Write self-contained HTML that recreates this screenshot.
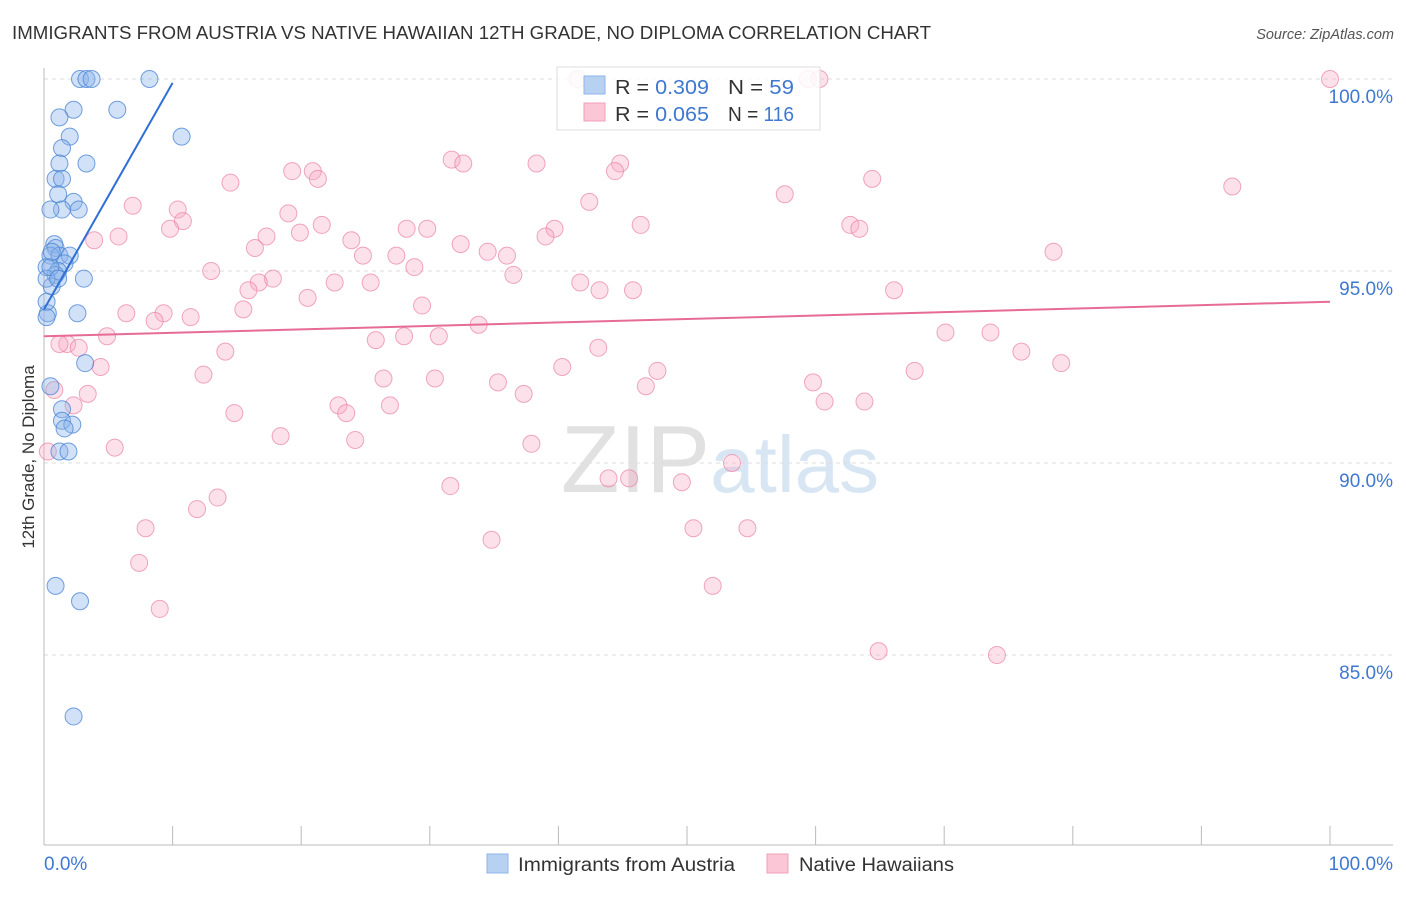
<!DOCTYPE html>
<html><head><meta charset="utf-8"><style>
body{margin:0;background:#fff;font-family:"Liberation Sans",sans-serif;}
svg text{font-family:"Liberation Sans",sans-serif;}
</style></head><body>
<svg id="chart" width="1406" height="892" viewBox="0 0 1406 892" xmlns="http://www.w3.org/2000/svg">
<text x="12" y="39" font-size="18" fill="#333" textLength="919" lengthAdjust="spacingAndGlyphs">IMMIGRANTS FROM AUSTRIA VS NATIVE HAWAIIAN 12TH GRADE, NO DIPLOMA CORRELATION CHART</text>
<text x="1394" y="39" font-size="14.5" fill="#555" text-anchor="end" font-style="italic">Source: ZipAtlas.com</text>
<text x="720" y="492" font-size="96" text-anchor="middle" fill="#ddd" font-family="Liberation Serif" opacity="0.7"><tspan fill="#d5d5d5">ZIP</tspan><tspan fill="#c8dcf0" font-family="Liberation Sans" font-size="80">atlas</tspan></text>
<g id="grid"></g>
<g id="axes"></g>
<g id="pts"></g>
<g id="trends"></g>
<text transform="translate(34,457) rotate(-90)" font-size="17" fill="#333" text-anchor="middle">12th Grade, No Diploma</text>
<g>
<rect x="557" y="67" width="263" height="63" fill="#fff" fill-opacity="0.85" stroke="#ddd"/>
<rect x="584" y="76" width="21" height="18" fill="#b7d1f3" stroke="#8fb5e8"/>
<rect x="584" y="103" width="21" height="18" fill="#fbc6d6" stroke="#f2a0b9"/>
<text x="615" y="94" font-size="20" fill="#333" textLength="94" lengthAdjust="spacingAndGlyphs">R = <tspan fill="#3f78d1">0.309</tspan></text>
<text x="728" y="94" font-size="20" fill="#333" textLength="66" lengthAdjust="spacingAndGlyphs">N = <tspan fill="#3f78d1"> 59</tspan></text>
<text x="615" y="121" font-size="20" fill="#333" textLength="94" lengthAdjust="spacingAndGlyphs">R = <tspan fill="#3f78d1">0.065</tspan></text>
<text x="728" y="121" font-size="20" fill="#333" textLength="66" lengthAdjust="spacingAndGlyphs">N = <tspan fill="#3f78d1">116</tspan></text>
</g>
<g>
<rect x="487" y="854" width="21" height="19" fill="#b7d1f3" stroke="#8fb5e8"/>
<text x="518" y="871" font-size="19" fill="#333" textLength="217" lengthAdjust="spacingAndGlyphs">Immigrants from Austria</text>
<rect x="767" y="854" width="21" height="19" fill="#fbc6d6" stroke="#f2a0b9"/>
<text x="799" y="871" font-size="19" fill="#333" textLength="155" lengthAdjust="spacingAndGlyphs">Native Hawaiians</text>
</g>
</svg>
<script>
const yTicks=[100,95,90,85];
const yTickLabels=["100.0%","95.0%","90.0%","85.0%"];
const xTickLabels=["0.0%","100.0%"];
const blueX=[2.8,3.3,3.7,8.2,5.7,2.3,1.2,2.0,10.7,1.4,1.2,3.3,0.9,1.4,1.1,2.3,1.4,0.5,2.7,0.8,0.9,0.5,1.2,2.0,1.6,0.2,1.1,0.9,3.1,0.6,2.6,0.3,0.2,3.2,0.5,1.4,1.4,2.2,1.6,1.2,1.9,0.9,2.8,2.3,0.2,0.5,0.2,0.6,1.1];
const blueY=[100,100,100,100,99.2,99.2,99.0,98.5,98.5,98.2,97.8,97.8,97.4,97.4,97.0,96.8,96.6,96.6,96.6,95.7,95.6,95.4,95.4,95.4,95.2,95.1,95.0,94.9,94.8,94.6,93.9,93.9,93.8,92.6,92.0,91.4,91.1,91.0,90.9,90.3,90.3,86.8,86.4,83.4,94.8,95.1,94.2,95.5,94.8];
const pinkX=[41.5,59.4,60.3,100,31.7,32.6,38.3,44.8,44.4,20.9,19.3,21.3,64.4,14.5,92.4,57.6,42.4,6.9,10.4,19.0,10.8,21.6,46.4,62.7,9.8,28.2,29.8,39.7,63.4,39.0,19.9,5.8,17.3,3.9,23.9,32.4,16.4,78.5,34.5,36.0,24.8,27.4,28.8,13.0,36.5,17.8,22.6,16.7,25.4,41.7,43.2,45.8,15.9,66.1,20.5,29.4,15.5,6.4,9.3,11.4,8.6,33.8,70.1,73.6,4.9,30.7,28.0,25.8,1.8,1.2,2.7,43.1,14.1,76.0,79.1,4.4,40.3,47.7,67.7,12.4,26.4,30.4,59.8,35.3,46.8,37.3,0.8,3.4,2.3,22.9,60.7,63.8,26.9,23.5,14.8,18.4,24.2,37.9,5.5,0.3,53.5,43.9,45.5,49.6,31.6,13.5,11.9,7.9,50.5,54.7,34.8,7.4,52.0,9.0,64.9,74.1];
const pinkY=[100,100,100,100,97.9,97.8,97.8,97.8,97.6,97.6,97.6,97.4,97.4,97.3,97.2,97.0,96.8,96.7,96.6,96.5,96.3,96.2,96.2,96.2,96.1,96.1,96.1,96.1,96.1,95.9,96.0,95.9,95.9,95.8,95.8,95.7,95.6,95.5,95.5,95.4,95.4,95.4,95.1,95.0,94.9,94.8,94.7,94.7,94.7,94.7,94.5,94.5,94.5,94.5,94.3,94.1,94.0,93.9,93.9,93.8,93.7,93.6,93.4,93.4,93.3,93.3,93.3,93.2,93.1,93.1,93.0,93.0,92.9,92.9,92.6,92.5,92.5,92.4,92.4,92.3,92.2,92.2,92.1,92.1,92.0,91.8,91.9,91.8,91.5,91.5,91.6,91.6,91.5,91.3,91.3,90.7,90.6,90.5,90.4,90.3,90.0,89.6,89.6,89.5,89.4,89.1,88.8,88.3,88.3,88.3,88.0,87.4,86.8,86.2,85.1,85.0];
const blueTrend=[[0,94.0],[10,99.9]];
const pinkTrend=[[0,93.3],[100,94.2]];
const NS="http://www.w3.org/2000/svg";
const X0=44,X1=1330,YT=79,PPU=38.4;
const sx=v=>X0+(X1-X0)*v/100;
const sy=v=>YT+(100-v)*PPU;
function mk(tag,attrs,parent){const e=document.createElementNS(NS,tag);for(const k in attrs)e.setAttribute(k,attrs[k]);parent.appendChild(e);return e;}
const grid=document.getElementById('grid'),axes=document.getElementById('axes');
yTicks.forEach((t,i)=>{
 const l=mk('line',{x1:X0,x2:1393,y1:sy(t),y2:sy(t),stroke:'#ddd','stroke-dasharray':'4,4'},grid);
 
 
 const tx=mk('text',{x:1393,y:sy(t)+24,'font-size':19,fill:'#3f78d1','text-anchor':'end'},axes);
 tx.textContent=yTickLabels[i];
 
 
});
const ya=mk('line',{x1:X0,x2:X0,y1:68,y2:845,stroke:'#bbb'},axes);


const xa=mk('line',{x1:X0,x2:1393,y1:845,y2:845,stroke:'#bbb'},axes);


for(let i=0;i<=10;i++){
 const t=mk('line',{x1:sx(i*10),x2:sx(i*10),y1:826,y2:845,stroke:'#bbb'},axes);
 
 
}
[[0,'start',44],[100,'end',1393]].forEach((d,i)=>{
 const tx=mk('text',{x:d[2],y:870,'font-size':19,fill:'#3f78d1','text-anchor':d[1]},axes);
 tx.textContent=xTickLabels[i];
 
 
});
const pts=document.getElementById('pts');
pinkX.forEach((v,i)=>{
 const c=mk('circle',{cx:sx(v),cy:sy(pinkY[i]),r:8.5,fill:'rgba(248,170,195,0.35)',stroke:'rgba(232,130,165,0.7)','stroke-width':1},pts);
 
 
});
blueX.forEach((v,i)=>{
 const c=mk('circle',{cx:sx(v),cy:sy(blueY[i]),r:8.5,fill:'rgba(140,180,235,0.4)',stroke:'rgba(70,130,210,0.75)','stroke-width':1},pts);
 
 
});
const tr=document.getElementById('trends');
const bl=mk('line',{x1:sx(blueTrend[0][0]),y1:sy(blueTrend[0][1]),x2:sx(blueTrend[1][0]),y2:sy(blueTrend[1][1]),stroke:'#2f6fd6','stroke-width':2},tr);


const pl=mk('line',{x1:sx(pinkTrend[0][0]),y1:sy(pinkTrend[0][1]),x2:sx(pinkTrend[1][0]),y2:sy(pinkTrend[1][1]),stroke:'#e66b96','stroke-width':2},tr);


</script>
</body></html>
